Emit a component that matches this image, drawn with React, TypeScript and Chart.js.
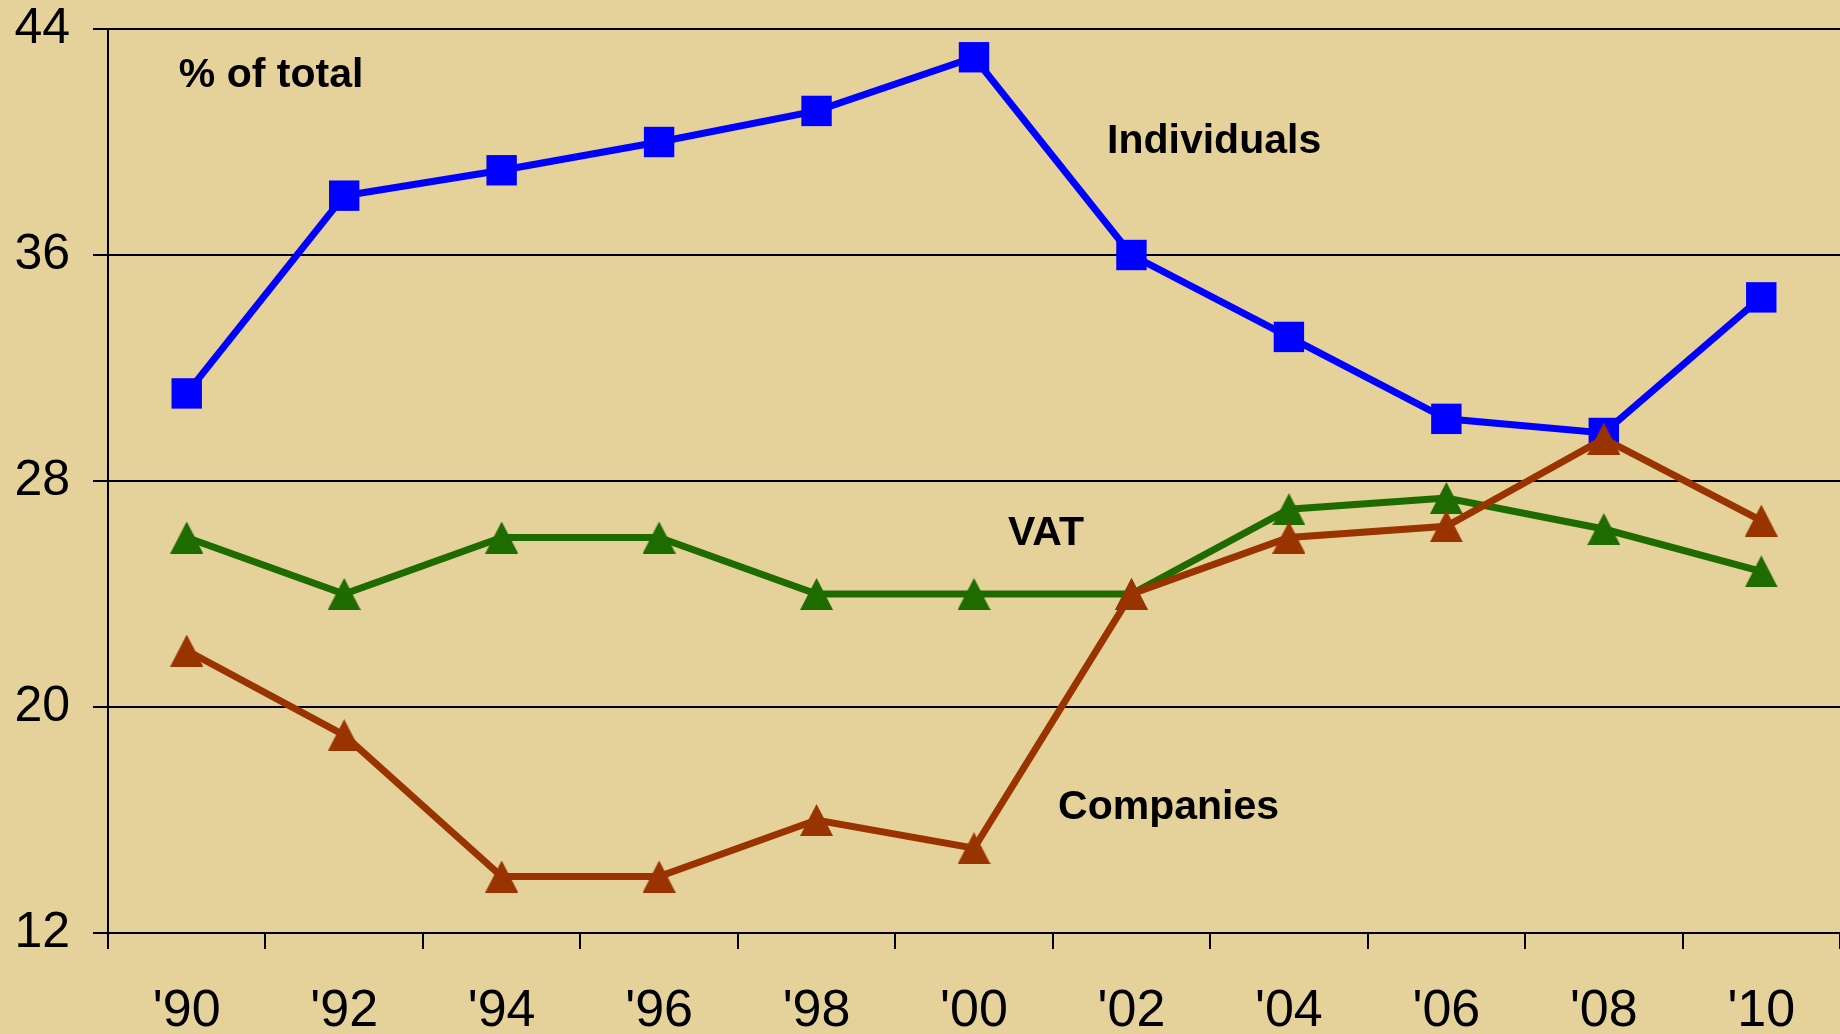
import React, { useEffect, useRef } from "react";
import { Chart, registerables } from "chart.js";

Chart.register(...registerables);

const years = ["'90", "'92", "'94", "'96", "'98", "'00", "'02", "'04", "'06", "'08", "'10"];
const individuals = [31.1, 38.1, 39.0, 40.0, 41.1, 43.0, 36.0, 33.1, 30.2, 29.7, 34.5];
const vat = [26.0, 24.0, 26.0, 26.0, 24.0, 24.0, 24.0, 27.0, 27.4, 26.3, 24.8];
const companies = [22.0, 19.0, 14.0, 14.0, 16.0, 15.0, 24.0, 26.0, 26.4, 29.5, 26.6];

const yMin = 12;
const yMax = 44;
const yStep = 8;

// text annotations placed in data coordinates (category index, value)
const noteTexts = ["% of total", "Individuals", "VAT", "Companies"];
const noteX = [-0.05, 5.845, 5.216, 5.534];
const noteY = [41.95, 39.61, 25.73, 16.04];

const BG = "#E5D19A";
const BLUE = "#0000FF";
const GREEN = "#1E6B00";
const BROWN = "#993300";
const FONT = "'Liberation Sans', Arial, Helvetica, sans-serif";

function triangleImage(color: string): HTMLCanvasElement {
  const c = document.createElement("canvas");
  c.width = 33;
  c.height = 32;
  const ctx = c.getContext("2d")!;
  ctx.fillStyle = color;
  ctx.beginPath();
  ctx.moveTo(16.5, 0);
  ctx.lineTo(33, 32);
  ctx.lineTo(0, 32);
  ctx.closePath();
  ctx.fill();
  return c;
}

export default function App() {
  const ref = useRef<HTMLCanvasElement | null>(null);

  useEffect(() => {
    if (!ref.current) return;
    const notesPlugin = {
      id: "notes",
      afterDatasetsDraw(chart: any) {
        const ctx = chart.ctx;
        const xs = chart.scales.x;
        const ys = chart.scales.y;
        ctx.save();
        ctx.fillStyle = "#000";
        ctx.font = `bold 41px ${FONT}`;
        ctx.textAlign = "left";
        ctx.textBaseline = "alphabetic";
        noteTexts.forEach((t, i) => {
          ctx.fillText(t, xs.getPixelForValue(noteX[i]), ys.getPixelForValue(noteY[i]));
        });
        ctx.restore();
      },
    };

    const chart = new Chart(ref.current, {
      type: "line",
      data: {
        labels: years,
        datasets: [
          {
            label: "Individuals",
            data: individuals,
            borderColor: BLUE,
            backgroundColor: BLUE,
            borderWidth: 7,
            pointStyle: "rect",
            pointRadius: 21.5,
            pointBorderWidth: 0,
            pointBackgroundColor: BLUE,
            order: 3,
          },
          {
            label: "VAT",
            data: vat,
            borderColor: GREEN,
            backgroundColor: GREEN,
            borderWidth: 7,
            pointStyle: triangleImage(GREEN),
            pointRadius: 16,
            order: 2,
          },
          {
            label: "Companies",
            data: companies,
            borderColor: BROWN,
            backgroundColor: BROWN,
            borderWidth: 7,
            pointStyle: triangleImage(BROWN),
            pointRadius: 16,
            order: 1,
          },
        ],
      },
      options: {
        responsive: false,
        animation: false,
        clip: false as any,
        layout: { autoPadding: false, padding: { top: 29, right: 0, left: 0, bottom: 0 } },
        plugins: {
          legend: { display: false },
          tooltip: { enabled: false },
          title: { display: false },
        },
        elements: { line: { tension: 0 } },
        scales: {
          x: {
            type: "category",
            offset: true,
            grid: {
              display: true,
              offset: true,
              drawOnChartArea: false,
              drawTicks: true,
              tickLength: 16,
              color: "#000",
              lineWidth: 2,
            },
            border: { display: true, color: "#000", width: 2 },
            ticks: {
              color: "#000",
              font: { family: FONT, size: 52 },
              padding: 31,
              maxRotation: 0,
              autoSkip: false,
            },
            afterFit: (scale: any) => {
              scale.height = 101;
              scale.paddingLeft = 0;
              scale.paddingRight = 0;
            },
          },
          y: {
            min: yMin,
            max: yMax,
            grid: {
              color: "#000",
              lineWidth: 2,
              tickLength: 15,
              drawTicks: true,
            },
            border: { display: true, color: "#000", width: 2 },
            ticks: {
              stepSize: yStep,
              color: "#000",
              font: { family: FONT, size: 50, lineHeight: 1 },
              padding: 23,
            },
            afterFit: (scale: any) => {
              scale.width = 108;
              scale.paddingTop = 0;
              scale.paddingBottom = 0;
            },
          },
        },
      },
      plugins: [notesPlugin],
    });
    return () => chart.destroy();
  }, []);

  return (
    <div
      style={{
        position: "fixed",
        left: 0,
        top: 0,
        width: 1840,
        height: 1034,
        background: BG,
      }}
    >
      <canvas ref={ref} width={1840} height={1034} style={{ display: "block" }} />
    </div>
  );
}
